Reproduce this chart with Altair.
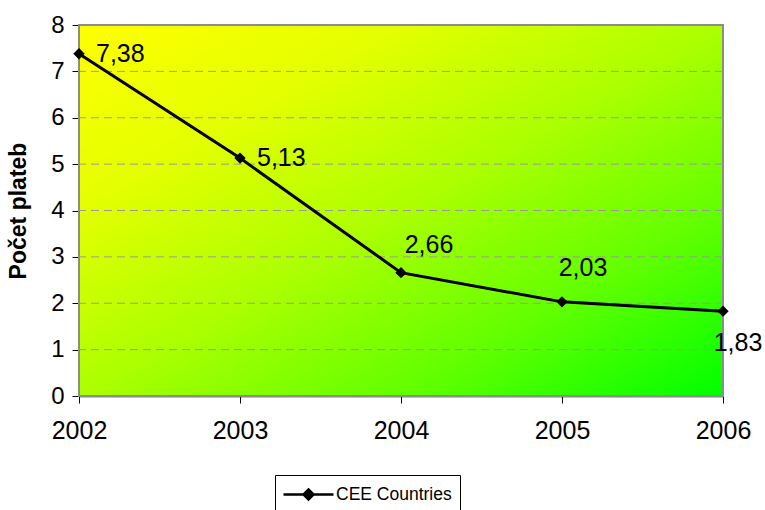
import altair as alt
import pandas as pd

# Average number of payments per year
years = ["2002", "2003", "2004", "2005", "2006"]
values = [7.38, 5.13, 2.66, 2.03, 1.83]
series_name = "CEE Countries"
y_ticks = [0, 1, 2, 3, 4, 5, 6, 7, 8]
grid_levels = [1, 2, 3, 4, 5, 6, 7]

df = pd.DataFrame({
    "year": years,
    "value": values,
    "series": [series_name] * len(years),
    "label": [f"{v:.2f}".replace(".", ",") for v in values],
})
grid_df = pd.DataFrame({"value": grid_levels})

# label offsets from each marker (align, dx, dy)
label_layout = {
    "2002": ("left", 17, 0),
    "2003": ("left", 17, 0),
    "2004": ("center", 28, -28),
    "2005": ("center", 21, -34),
    "2006": ("center", 15, 32),
}

W, H = 644, 371
FONT = "Liberation Sans"

x_enc = alt.X("year:O", scale=alt.Scale(type="point", padding=0),
              axis=alt.Axis(title=None, labelAngle=0, labelFontSize=25, labelPadding=15,
                            tickSize=7, tickColor="black", domainColor="black",
                            labelColor="black", grid=False, domainWidth=1.5))
y_scale = alt.Scale(domain=[0, 8], nice=False)
y_enc = alt.Y("value:Q", scale=y_scale,
              axis=alt.Axis(title="Počet plateb", values=y_ticks, labelFontSize=24,
                            titleFontSize=23, titleFontWeight="bold", titleColor="black",
                            labelColor="black", tickSize=7, tickColor="black",
                            domainColor="black", labelPadding=8, titlePadding=20,
                            grid=False, domainWidth=1.5))

# diagonal yellow-to-green plot background
bg = alt.Chart(df).mark_rect(
    fill=alt.Gradient(
        gradient="linear", x1=0, y1=0, x2=1, y2=1,
        stops=[alt.GradientStop(color="#ffff00", offset=0),
               alt.GradientStop(color="#e4ff00", offset=0.25),
               alt.GradientStop(color="#acff00", offset=0.5),
               alt.GradientStop(color="#62ff00", offset=0.75),
               alt.GradientStop(color="#00ff00", offset=1)],
    ),
    stroke="#8c8c8c", strokeWidth=2,
).encode(x=alt.value(0), x2=alt.value(W), y=alt.value(0), y2=alt.value(H))

# dashed horizontal gridlines
grid = alt.Chart(grid_df).mark_rule(color="#9a9a9a", strokeDash=[8, 5], strokeWidth=1).encode(
    y=y_enc
)

base = alt.Chart(df).encode(x=x_enc, y=y_enc)

legend = alt.Legend(
    title=None, orient="none", legendX=196, legendY=450,
    symbolType="M-2.5,0H2.5M0,-0.5L0.5,0L0,0.5L-0.5,0Z",
    symbolSize=400, symbolStrokeWidth=2.5, symbolFillColor="black",
    symbolStrokeColor="black", symbolOffset=14, labelFontSize=17.5, labelFont=FONT,
    labelColor="black", strokeColor="black", fillColor="white",
    padding=8, labelOffset=16,
)

line = base.mark_line(strokeWidth=3).encode(
    color=alt.Color("series:N", scale=alt.Scale(range=["black"]), legend=legend)
)
points = base.mark_point(shape="diamond", filled=True, size=130, color="black", opacity=1)

labels = []
for yr, (align, dx, dy) in label_layout.items():
    labels.append(
        base.mark_text(align=align, baseline="middle", dx=dx, dy=dy,
                       fontSize=25, font=FONT, color="black")
        .encode(text="label:N")
        .transform_filter(alt.datum.year == yr)
    )

chart = alt.layer(bg, grid, line, points, *labels).properties(
    width=W, height=H,
    autosize=alt.AutoSizeParams(type="none"),
    padding={"left": 79, "top": 25, "right": 42, "bottom": 114},
).configure(font=FONT).configure_view(stroke=None)

chart.save("out.html", embed_options={"renderer": "svg", "actions": False})
